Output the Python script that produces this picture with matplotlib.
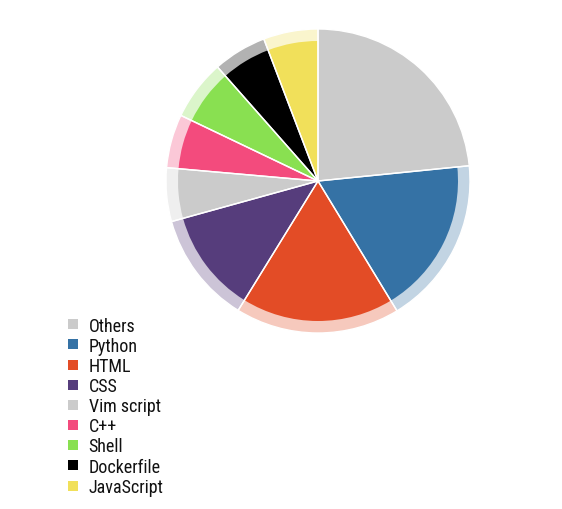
import matplotlib
matplotlib.use("Agg")
import matplotlib.pyplot as plt
from matplotlib.lines import Line2D
from matplotlib import font_manager
import matplotlib.colors as mcolors

labels = ["Others", "Python", "HTML", "CSS", "Vim script", "C++", "Shell", "Dockerfile", "JavaScript"]
values = [23.4, 17.9, 17.5, 11.9, 5.7, 5.7, 6.4, 5.7, 5.8]
colors = ["#cbcbcb", "#3572a5", "#e34c26", "#563d7c", "#cbcbcb", "#f34b7d", "#89e051", "#000000", "#f1e05a"]

names = {f.name for f in font_manager.fontManager.ttflist}
prop = dict(family="DejaVu Sans", stretch="condensed", size=12.5)
for cand in ["Roboto Condensed", "Open Sans Condensed", "Liberation Sans Narrow"]:
    if cand in names:
        prop = dict(family=cand, size=13)
        break

W, H = 562, 510
fig = plt.figure(figsize=(W / 100, H / 100), dpi=100)
ax = fig.add_axes([0, 0, 1, 1])

cx, cy = 318, H - 182
r_out, r_in = 152, 140

light = [mcolors.to_rgba(c, 0.3) for c in colors]
light[0] = mcolors.to_rgba(colors[0], 1.0)
ax.pie(values, colors=light, radius=r_out, center=(cx, cy), startangle=90,
       counterclock=False, wedgeprops=dict(linewidth=0), frame=True)
ax.pie(values, colors=colors, radius=r_in, center=(cx, cy), startangle=90,
       counterclock=False, wedgeprops=dict(linewidth=0), frame=True)
ax.pie(values, colors=["none"] * len(values), radius=r_out, center=(cx, cy), startangle=90,
       counterclock=False, wedgeprops=dict(linewidth=1, edgecolor="white", facecolor="none"), frame=True)
ax.set_xlim(0, W)
ax.set_ylim(0, H)
ax.set_aspect("auto")
ax.axis("off")

handles = [Line2D([], [], linestyle="none", marker="s", markersize=7.5,
                  markerfacecolor=c, markeredgewidth=0) for c in colors]
leg = ax.legend(handles, labels, loc="upper left", bbox_to_anchor=(66 / W, 1 - 317.5 / H),
                frameon=False, prop=prop, handlelength=0.8,
                handletextpad=0.45, labelspacing=0.12, borderaxespad=0, borderpad=0)
for t in leg.get_texts():
    t.set_color("#111111")

fig.savefig("out.png", dpi=100)
